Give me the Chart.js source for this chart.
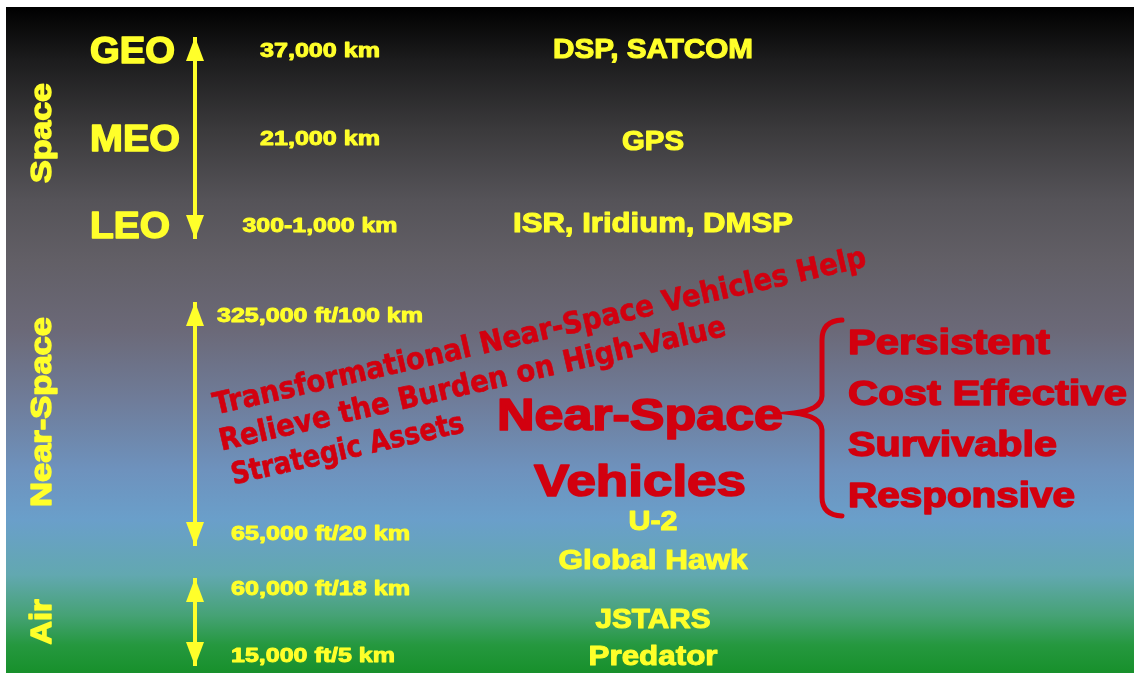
<!DOCTYPE html>
<html lang="en-US">
<head>
<meta charset="UTF-8">
<title>Near-Space Vehicles</title>
<script src="https://cdn.jsdelivr.net/npm/chart.js@4.4.1/dist/chart.umd.min.js"></script>
<style>
    body { margin: 0; background: #ffffff; }
    #wrap { position: relative; width: 1134px; height: 673px; }
</style>
</head>
<body>
<div id="wrap"><canvas id="myChart"></canvas></div>
<script>
    // chart content
    var zones = ['Space', 'Near-Space', 'Air'];
    var orbits = ['GEO', 'MEO', 'LEO'];
    var orbitAltitudes = ['37,000 km', '21,000 km', '300-1,000 km'];
    var orbitSystems = ['DSP, SATCOM', 'GPS', 'ISR, Iridium, DMSP'];
    var nearSpaceBounds = ['325,000 ft/100 km', '65,000 ft/20 km'];
    var airBounds = ['60,000 ft/18 km', '15,000 ft/5 km'];
    var nearSpaceSystems = ['U-2', 'Global Hawk'];
    var airSystems = ['JSTARS', 'Predator'];
    var vehicleTitle = ['Near-Space', 'Vehicles'];
    var attributes = ['Persistent', 'Cost Effective', 'Survivable', 'Responsive'];
    var message = ['Transformational Near-Space Vehicles Help', 'Relieve the Burden on High-Value', 'Strategic Assets'];

    // layout (scale units, same size as the page)
    var layout = {
        panel: { x0: 6, y0: 7, x1: 1134, y1: 673 },
        zoneX: 40, zoneY: [133, 412, 622], zoneLen: [100, 190, 45],
        arrowX: 195, arrows: [[37, 239], [302, 546], [578, 666]],
        orbitX: 90, orbitY: [50, 138, 225], orbitW: [85, 90, 80],
        altX: 320, altW: [120, 120, 155],
        sysX: 653, sysY: [48, 140, 222], sysW: [200, 62, 280],
        nsBoundX: [217, 231], nsBoundY: [315, 533], nsBoundW: [206, 179],
        airBoundX: [231, 231], airBoundY: [588, 655], airBoundW: [179, 164],
        nsSysY: [520, 559], nsSysW: [49, 189],
        airSysY: [618, 655], airSysW: [115, 129],
        titleX: 640, titleY: [414, 480], titleW: [286, 212],
        attrX: 848, attrY: [341, 392, 443, 494], attrW: [202, 279, 209, 227],
        msgStart: [[213, 404], [219, 440], [231, 474]], msgLen: [669, 519, 238], msgAngle: -12.8
    };

    var YELLOW = '#ffff2a';
    var RED = '#d2000f';
    var SANS = '"Liberation Sans", Arial, sans-serif';

    // text squeezed/stretched to the width it has in the slide, slightly emboldened
    function drawFit(ctx, text, x, y, size, width, align, rot, family, color, weight) {
        ctx.save();
        ctx.translate(x, y);
        if (rot) ctx.rotate(rot);
        ctx.font = 'bold ' + size + 'px ' + (family || SANS);
        var w = ctx.measureText(text).width;
        var k = width ? width / w : 1;
        ctx.scale(k, 1);
        ctx.textAlign = align;
        ctx.textBaseline = 'alphabetic';
        ctx.fillStyle = color || YELLOW;
        ctx.strokeStyle = color || YELLOW;
        ctx.lineWidth = (weight || 1.2) / k;
        ctx.lineJoin = 'round';
        ctx.fillText(text, 0, size * 0.358);
        ctx.strokeText(text, 0, size * 0.358);
        ctx.restore();
    }

    var backdrop = {
        id: 'backdrop',
        beforeDraw: function (chart) {
            var ctx = chart.ctx, sx = chart.scales.x, sy = chart.scales.y, p = layout.panel;
            var x0 = sx.getPixelForValue(p.x0), x1 = sx.getPixelForValue(p.x1);
            var y0 = sy.getPixelForValue(p.y0), y1 = sy.getPixelForValue(p.y1);
            var g = ctx.createLinearGradient(0, y0, 0, y1);
            var h = y1 - y0;
            var stops = [[7, '#000000'], [60, '#1c1c1d'], [130, '#3b3a3c'], [200, '#555358'], [260, '#625f66'],
                [330, '#6b6978'], [400, '#6f7c99'], [470, '#6e92bd'], [520, '#6a9fca'], [575, '#62a8b0'],
                [615, '#46a276'], [645, '#25983f'], [673, '#17902b']];
            stops.forEach(function (s) { g.addColorStop((sy.getPixelForValue(s[0]) - y0) / h, s[1]); });
            ctx.save();
            ctx.fillStyle = g;
            ctx.fillRect(x0, y0, x1 - x0, y1 - y0);
            ctx.restore();
        }
    };

    var labels = {
        id: 'labels',
        afterDatasetsDraw: function (chart) {
            var ctx = chart.ctx, sx = chart.scales.x, sy = chart.scales.y;
            var X = function (v) { return sx.getPixelForValue(v); };
            var Y = function (v) { return sy.getPixelForValue(v); };
            var L = layout;

            // arrowheads at both ends of each altitude span
            chart.data.datasets.forEach(function (ds, i) {
                var pts = chart.getDatasetMeta(i).data;
                ctx.save();
                ctx.fillStyle = YELLOW;
                [[pts[0], 1], [pts[1], -1]].forEach(function (e) {
                    var p = e[0], d = e[1];
                    ctx.beginPath();
                    ctx.moveTo(p.x, p.y);
                    ctx.lineTo(p.x - 9, p.y + d * 24);
                    ctx.lineTo(p.x + 9, p.y + d * 24);
                    ctx.closePath();
                    ctx.fill();
                });
                ctx.restore();
            });

            zones.forEach(function (t, i) {
                drawFit(ctx, t, X(L.zoneX), Y(L.zoneY[i]), 30, L.zoneLen[i], 'center', -Math.PI / 2, SANS, YELLOW, 1.6);
            });
            orbits.forEach(function (t, i) {
                drawFit(ctx, t, X(L.orbitX), Y(L.orbitY[i]), 36, L.orbitW[i], 'left', 0, SANS, YELLOW, 1.6);
                drawFit(ctx, orbitAltitudes[i], X(L.altX), Y(L.orbitY[i]), 20, L.altW[i], 'center');
                drawFit(ctx, orbitSystems[i], X(L.sysX), Y(L.sysY[i]), 28, L.sysW[i], 'center');
            });
            nearSpaceBounds.forEach(function (t, i) {
                drawFit(ctx, t, X(L.nsBoundX[i]), Y(L.nsBoundY[i]), 20, L.nsBoundW[i], 'left');
            });
            airBounds.forEach(function (t, i) {
                drawFit(ctx, t, X(L.airBoundX[i]), Y(L.airBoundY[i]), 20, L.airBoundW[i], 'left');
            });
            nearSpaceSystems.forEach(function (t, i) {
                drawFit(ctx, t, X(L.sysX), Y(L.nsSysY[i]), 27, L.nsSysW[i], 'center');
            });
            airSystems.forEach(function (t, i) {
                drawFit(ctx, t, X(L.sysX), Y(L.airSysY[i]), 27, L.airSysW[i], 'center');
            });

            // red block
            vehicleTitle.forEach(function (t, i) {
                drawFit(ctx, t, X(L.titleX), Y(L.titleY[i]), 45, L.titleW[i], 'center', 0, SANS, RED, 2);
            });
            attributes.forEach(function (t, i) {
                drawFit(ctx, t, X(L.attrX), Y(L.attrY[i]), 35, L.attrW[i], 'left', 0, SANS, RED, 1.8);
            });
            var rot = L.msgAngle * Math.PI / 180;
            message.forEach(function (t, i) {
                drawFit(ctx, t, X(L.msgStart[i][0]), Y(L.msgStart[i][1]), 30, L.msgLen[i], 'left', rot,
                    '"DejaVu Sans", sans-serif', RED, 0.6);
            });

            // brace
            ctx.save();
            ctx.strokeStyle = RED;
            ctx.lineWidth = 5;
            ctx.lineCap = 'round';
            ctx.beginPath();
            ctx.moveTo(X(842), Y(320));
            ctx.quadraticCurveTo(X(822), Y(321), X(822), Y(340));
            ctx.lineTo(X(822), Y(396));
            ctx.quadraticCurveTo(X(821), Y(410), X(794), Y(413));
            ctx.quadraticCurveTo(X(821), Y(416), X(822), Y(430));
            ctx.lineTo(X(822), Y(497));
            ctx.quadraticCurveTo(X(822), Y(515), X(842), Y(516));
            ctx.stroke();
            ctx.restore();
        }
    };

    var datasets = layout.arrows.map(function (a) {
        return {
            data: [{ x: layout.arrowX, y: a[0] }, { x: layout.arrowX, y: a[1] }],
            showLine: true,
            borderColor: YELLOW,
            borderWidth: 4,
            pointRadius: 0,
            clip: false
        };
    });

    var ctx = document.getElementById('myChart').getContext('2d');
    var myChart = new Chart(ctx, {
        type: 'scatter',
        data: { datasets: datasets },
        options: {
            responsive: true,
            maintainAspectRatio: false,
            animation: false,
            layout: { padding: 0 },
            plugins: { legend: { display: false }, tooltip: { enabled: false } },
            scales: {
                x: { type: 'linear', min: 0, max: 1134, display: false },
                y: { type: 'linear', min: 0, max: 673, reverse: true, display: false }
            }
        },
        plugins: [backdrop, labels]
    });
</script>
</body>
</html>
